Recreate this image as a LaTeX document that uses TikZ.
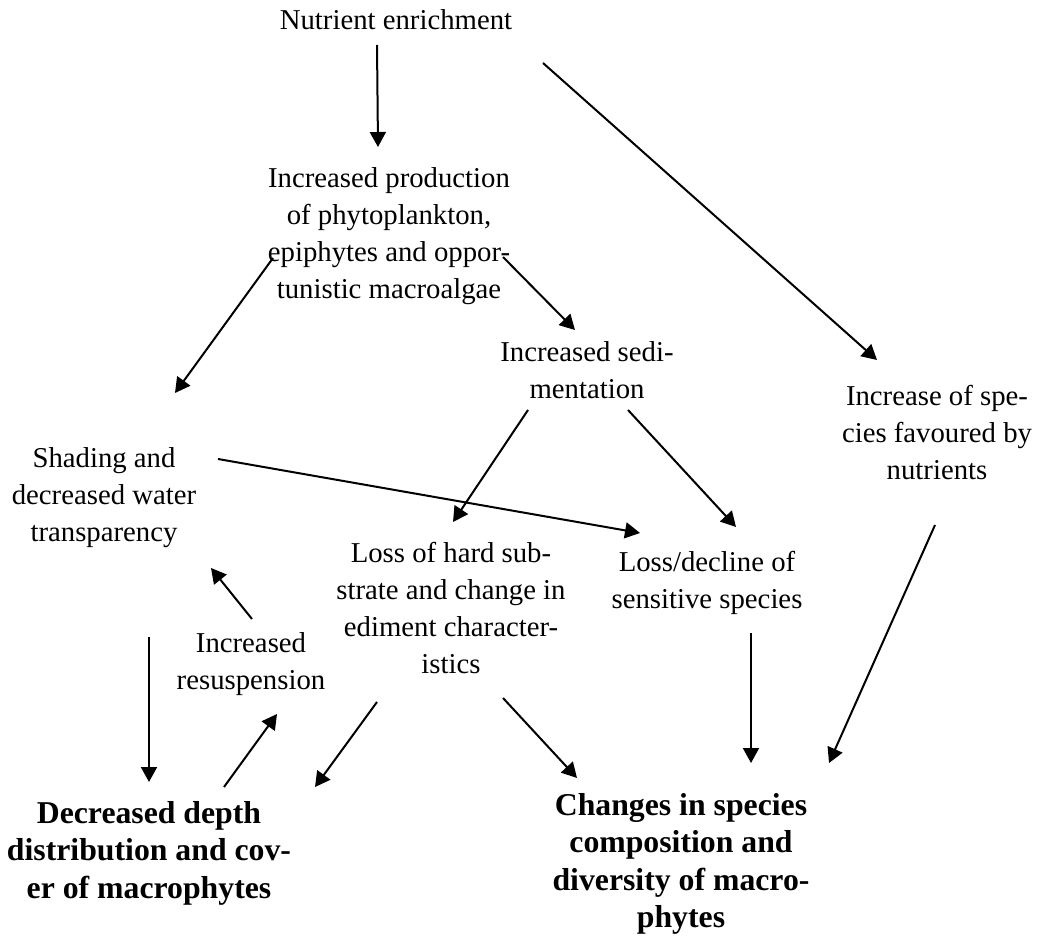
\documentclass[tikz,border=0pt]{standalone}
\usepackage{fontspec}
\setmainfont{Liberation Serif}
\usetikzlibrary{arrows.meta,positioning}

\begin{document}
\begin{tikzpicture}[x=0.4pt,y=-0.4pt,line width=0.8pt,>={Triangle[length=6pt,width=6.4pt]}]
  \tikzstyle{txt}=[align=center,inner sep=0pt,font=\fontsize{11.5}{14.8}\selectfont]
  \tikzstyle{res}=[align=center,inner sep=0pt,font=\fontsize{12.7}{15}\selectfont\bfseries]

  \useasboundingbox (0,0) rectangle (1045,938);

    \node[txt] (nut)  at (396,20)  {Nutrient enrichment};
    \node[txt] (prod) at (389,236) {Increased production\\of phytoplankton,\\epiphytes and oppor-\\tunistic macroalgae};
    \node[txt] (sed)  at (587,370) {Increased sedi-\\mentation};
    \node[txt] (incr) at (937,433) {Increase of spe-\\cies favoured by\\nutrients};
    \node[txt] (shad) at (104,498) {Shading and\\decreased water\\transparency};
    \node[txt] (hard) at (451,608) {Loss of hard sub-\\strate and change in\\ediment character-\\istics};
    \node[txt] (sens) at (707,583) {Loss/decline of\\sensitive species};
    \node[txt] (resu) at (251,664) {Increased\\resuspension};
    \node[res] (dec)  at (149,853) {Decreased depth\\distribution and cov-\\er of macrophytes};
    \node[res] (chg)  at (681,864) {Changes in species\\composition and\\diversity of macro-\\phytes};

    % arrow ends
    \coordinate (nut-s)   at (377,45);
    \coordinate (nut-e)   at (543,63);
    \coordinate (prod-n)  at (378,147);
    \coordinate (prod-sw) at (273,258);
    \coordinate (prod-se) at (503,257);
    \coordinate (sed-n)   at (575,330);
    \coordinate (sed-sw)  at (528,410);
    \coordinate (sed-se)  at (628,410);
    \coordinate (incr-n)  at (877,360);
    \coordinate (incr-s)  at (935,525);
    \coordinate (shad-n)  at (175,393);
    \coordinate (shad-e)  at (218,459);
    \coordinate (shad-se) at (211,568);
    \coordinate (shad-s)  at (149,637);
    \coordinate (hard-n)  at (453,522);
    \coordinate (hard-sw) at (377,702);
    \coordinate (hard-se) at (503,698);
    \coordinate (sens-n)  at (736,527);
    \coordinate (sens-w)  at (640,533);
    \coordinate (sens-s)  at (751,633);
    \coordinate (resu-n)  at (252,619);
    \coordinate (resu-s)  at (277,714);
    \coordinate (dec-n)   at (149,782);
    \coordinate (dec-ne)  at (315,787);
    \coordinate (dec-up)  at (224,787);
    \coordinate (chg-nw)  at (577,778);
    \coordinate (chg-n)   at (751,763);
    \coordinate (chg-ne)  at (829,763);

    \path[->]
    (nut-s)   edge (prod-n)
    (nut-e)   edge (incr-n)
    (prod-sw) edge (shad-n)
    (prod-se) edge (sed-n)
    (sed-sw)  edge (hard-n)
    (sed-se)  edge (sens-n)
    (shad-e)  edge (sens-w)
    (incr-s)  edge (chg-ne)
    (sens-s)  edge (chg-n)
    (hard-se) edge (chg-nw)
    (hard-sw) edge (dec-ne)
    (shad-s)  edge (dec-n)
    (dec-up)  edge (resu-s)
    (resu-n)  edge (shad-se)
    ;

\end{tikzpicture}
\end{document}
